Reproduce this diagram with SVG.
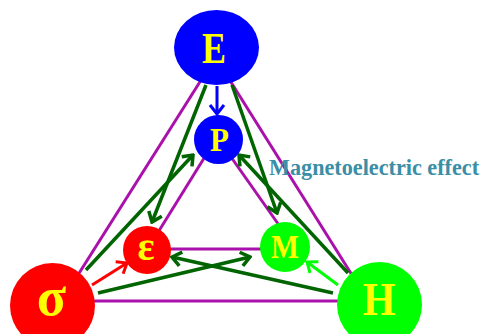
<svg xmlns="http://www.w3.org/2000/svg" width="483" height="334" viewBox="0 0 483 334">
<style>
.tri{stroke:#aa10aa;stroke-width:3;fill:none}
.dg{stroke:#006400;stroke-width:3.5;fill:none}
.lbl{font-family:"Liberation Serif","Times New Roman",serif;font-weight:bold;fill:#ffff00;text-anchor:middle}
</style>
<defs>
<marker id="aDG" viewBox="-2 -9 14 18" refX="10" refY="0" markerWidth="14" markerHeight="18" markerUnits="userSpaceOnUse" orient="auto"><path d="M1,-7 L10,0 L1,7" fill="none" stroke="#006400" stroke-width="3.5"/></marker>
<marker id="aR" viewBox="-2 -9 14 18" refX="10" refY="0" markerWidth="14" markerHeight="18" markerUnits="userSpaceOnUse" orient="auto"><path d="M1,-7 L10,0 L1,7" fill="none" stroke="#ff0000" stroke-width="3"/></marker>
<marker id="aG" viewBox="-2 -9 14 18" refX="10" refY="0" markerWidth="14" markerHeight="18" markerUnits="userSpaceOnUse" orient="auto"><path d="M1,-7 L10,0 L1,7" fill="none" stroke="#00ff00" stroke-width="3"/></marker>
<marker id="aB" viewBox="-2 -9 14 18" refX="10" refY="0" markerWidth="14" markerHeight="18" markerUnits="userSpaceOnUse" orient="auto"><path d="M1,-7 L10,0 L1,7" fill="none" stroke="#0000ff" stroke-width="3"/></marker>
</defs>
<g id="connectors">
<line class="tri" x1="203" y1="77" x2="76" y2="278"/>
<line class="tri" x1="229" y1="79" x2="352" y2="275"/>
<line class="tri" x1="80" y1="301" x2="350" y2="301"/>
<line class="tri" x1="206" y1="155" x2="157" y2="234"/>
<line class="tri" x1="231" y1="157" x2="281" y2="228"/>
<line class="tri" x1="165" y1="249" x2="265" y2="249"/>
<line class="dg" x1="206" y1="85" x2="152" y2="222" marker-end="url(#aDG)"/>
<line class="dg" x1="86" y1="270" x2="193" y2="155" marker-end="url(#aDG)"/>
<line class="dg" x1="232" y1="85" x2="277" y2="213" marker-end="url(#aDG)"/>
<line class="dg" x1="348" y1="273" x2="239" y2="155" marker-end="url(#aDG)"/>
<line class="dg" x1="98" y1="293" x2="250" y2="257" marker-end="url(#aDG)"/>
<line class="dg" x1="333" y1="293" x2="172" y2="257" marker-end="url(#aDG)"/>
<line x1="92" y1="285" x2="127" y2="263" stroke="#ff0000" stroke-width="3" marker-end="url(#aR)"/>
<line x1="338" y1="285" x2="307" y2="262" stroke="#00ff00" stroke-width="3" marker-end="url(#aG)"/>
<line x1="217" y1="86" x2="217" y2="114" stroke="#0000ff" stroke-width="3" marker-end="url(#aB)"/>
</g>
<g id="E"><ellipse cx="216.5" cy="47.5" rx="42.5" ry="37.5" fill="#0000ff"/><text class="lbl" font-size="36" transform="translate(214,62.7) scale(1,1.26)">E</text></g>
<g id="P"><circle cx="218.5" cy="139.5" r="24.5" fill="#0000ff"/><text class="lbl" font-size="31" transform="translate(219.5,151) scale(1,1.12)">P</text></g>
<g id="epsilon"><circle cx="147" cy="250" r="24" fill="#ff0000"/><text class="lbl" font-size="40" x="146" y="259.5">ε</text></g>
<g id="M"><circle cx="285" cy="247" r="25" fill="#00ff00"/><text class="lbl" font-size="29.5" transform="translate(285,258) scale(1,1.13)">M</text></g>
<g id="sigma"><circle cx="52.5" cy="305.5" r="42.5" fill="#ff0000"/><text class="lbl" font-size="54" x="51.5" y="315">σ</text></g>
<g id="H"><circle cx="379.5" cy="304.5" r="42.5" fill="#00ff00"/><text class="lbl" font-size="42" transform="translate(379,315) scale(1,1.11)">H</text></g>
<g id="label"><text font-family="'Liberation Serif','Times New Roman',serif" font-weight="bold" font-size="22.2" fill="#3a8ea5" transform="translate(269,175) scale(1,1.07)">Magnetoelectric effect</text></g>
</svg>
